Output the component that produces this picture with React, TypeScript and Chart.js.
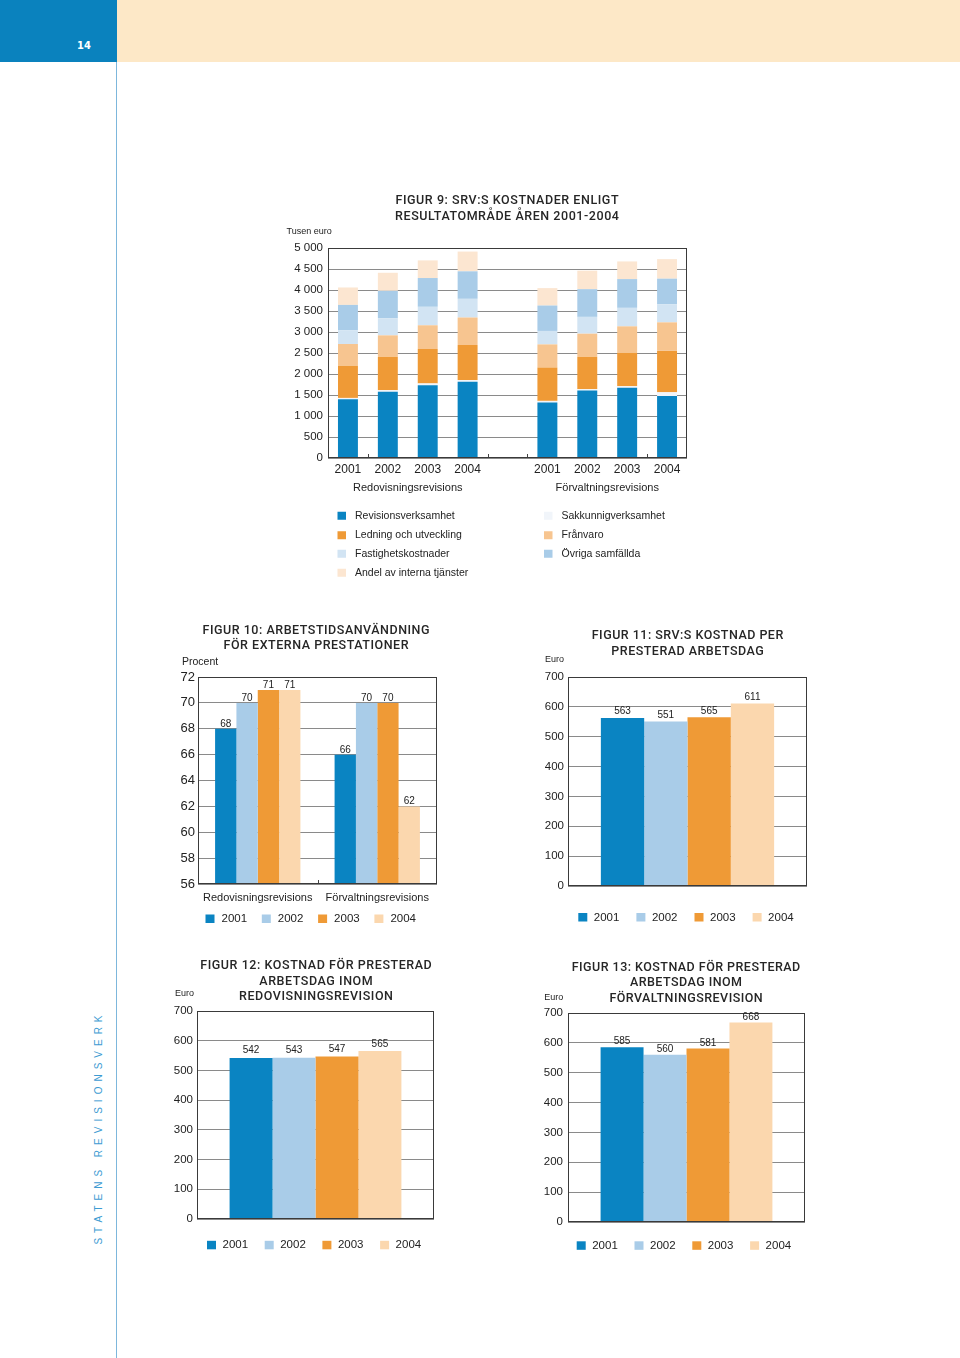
import React, { useEffect, useRef } from 'react';
import { Chart, registerables } from 'chart.js';

Chart.register(...registerables);

const SANS = "'Liberation Sans', Arial, sans-serif";
const TITLE_FONT = "Roboto, 'Liberation Sans', sans-serif";
const NARROW = "'Liberation Sans Narrow', 'DejaVu Sans Condensed', 'Liberation Sans', sans-serif";
const TEXT = '#222222';
Chart.defaults.font.family = SANS;

// ---------------- data ----------------
const years = ['2001', '2002', '2003', '2004'];
const yearColors = ['#0a84c2', '#a9cce8', '#ef9a36', '#fbd7ae'];

// Figur 9 (tusen euro, stacked)
const fig9Categories = ['2001', '2002', '2003', '2004', '', '2001', '2002', '2003', '2004'];
const fig9Groups = ['Redovisningsrevisions', 'Förvaltningsrevisions'];
const fig9Revisionsverksamhet = [1400, 1575, 1730, 1815, null, 1320, 1610, 1670, 1475];
const fig9Sakkunnigverksamhet = [30, 40, 45, 40, null, 40, 30, 40, 90];
const fig9Ledning = [765, 795, 820, 835, null, 795, 770, 795, 985];
const fig9Franvaro = [520, 510, 565, 655, null, 550, 550, 630, 680];
const fig9Fastighet = [325, 405, 440, 445, null, 320, 400, 440, 430];
const fig9Ovriga = [605, 655, 685, 655, null, 605, 660, 685, 610];
const fig9Andel = [415, 430, 420, 470, null, 415, 440, 420, 465];
const fig9SeriesNames = [
  'Revisionsverksamhet',
  'Sakkunnigverksamhet',
  'Ledning och utveckling',
  'Frånvaro',
  'Fastighetskostnader',
  'Övriga samfällda',
  'Andel av interna tjänster',
];
const fig9Colors = ['#0a84c2', '#f1f5fa', '#ef9a36', '#f7c590', '#d2e4f3', '#a9cce8', '#fce6d1'];

// Figur 10 (procent)
const fig10Categories = ['Redovisningsrevisions', 'Förvaltningsrevisions'];
const fig10Y2001 = [68, 66];
const fig10Y2002 = [70, 70];
const fig10Y2003 = [71, 70];
const fig10Y2004 = [71, 62];

// Figur 11-13 (euro)
const fig11Values = [563, 551, 565, 611];
const fig12Values = [542, 543, 547, 565];
const fig13Values = [585, 560, 581, 668];

// ---------------- helpers ----------------
const fmtThousands = (v: number) => String(v).replace(/\B(?=(\d{3})+(?!\d))/g, ' ');

const decorPlugin = {
  id: 'decor',
  afterDraw(chart: any, _args: any, o: any) {
    const ctx = chart.ctx as CanvasRenderingContext2D;
    const [ox, oy] = o.origin;
    const ca = chart.chartArea;
    const xs = chart.scales.x;
    ctx.save();

    // inner tick marks at category borders
    if (o.innerTicks) {
      const p0 = xs.getPixelForValue(0);
      const cw = xs.getPixelForValue(1) - p0;
      ctx.strokeStyle = '#444';
      ctx.lineWidth = 1;
      o.innerTicks.forEach((b: number) => {
        const x = Math.round(p0 + cw * b) + 0.5;
        ctx.beginPath();
        ctx.moveTo(x, ca.bottom);
        ctx.lineTo(x, ca.bottom - 4);
        ctx.stroke();
      });
    }

    // frame
    ctx.strokeStyle = '#3a3a3a';
    ctx.lineWidth = 1;
    const l = Math.round(ca.left) + 0.5;
    const t = Math.round(ca.top) + 0.5;
    const r = Math.round(ca.right) - 0.5;
    const b = Math.round(ca.bottom) - 0.5;
    ctx.strokeRect(l, t, r - l, b - t);

    // data labels
    if (o.dataLabels) {
      ctx.font = `${o.dataLabels.size}px ${SANS}`;
      ctx.fillStyle = TEXT;
      ctx.textAlign = 'center';
      ctx.textBaseline = 'alphabetic';
      chart.data.datasets.forEach((ds: any, di: number) => {
        const meta = chart.getDatasetMeta(di);
        meta.data.forEach((el: any, i: number) => {
          const v = ds.data[i];
          if (v == null) return;
          ctx.fillText(String(v), el.x, el.y - o.dataLabels.offset);
        });
      });
    }

    // group labels
    if (o.groups) {
      ctx.font = `${o.groups.size}px ${SANS}`;
      ctx.fillStyle = TEXT;
      ctx.textAlign = 'center';
      ctx.textBaseline = 'middle';
      o.groups.items.forEach((g: any) => {
        const x = (xs.getPixelForValue(g.a) + xs.getPixelForValue(g.b)) / 2;
        ctx.fillText(g.text, x, o.groups.y - oy);
      });
    }

    // title (letter spacing fitted so the first line has the reference width)
    if (o.title) {
      ctx.font = `500 ${o.title.size}px ${TITLE_FONT}`;
      (ctx as any).letterSpacing = '0px';
      const first = o.title.lines[0];
      const w0 = ctx.measureText(first).width;
      const sp = Math.max(0, (o.title.width - w0) / Math.max(1, first.length - 1));
      (ctx as any).letterSpacing = `${sp}px`;
      ctx.fillStyle = '#262626';
      ctx.textAlign = 'center';
      ctx.textBaseline = 'middle';
      o.title.lines.forEach((ln: string, i: number) => {
        ctx.fillText(ln, o.title.x - ox + sp / 2, o.title.ys[i] - oy);
      });
      (ctx as any).letterSpacing = '0px';
    }

    // unit label
    if (o.unit) {
      ctx.font = `${o.unit.size}px ${SANS}`;
      ctx.fillStyle = TEXT;
      ctx.textAlign = 'left';
      ctx.textBaseline = 'middle';
      ctx.fillText(o.unit.text, o.unit.x - ox, o.unit.y - oy);
    }

    // legend
    if (o.legend) {
      const lg = o.legend;
      ctx.font = `${lg.size}px ${SANS}`;
      ctx.textAlign = 'left';
      ctx.textBaseline = 'middle';
      chart.data.datasets.forEach((d: any, i: number) => {
        let bx: number, cy: number;
        if (lg.colXs) {
          bx = lg.colXs[i % lg.colXs.length];
          cy = lg.rowYs[Math.floor(i / lg.colXs.length)];
        } else {
          bx = lg.x0 + i * lg.dx;
          cy = lg.y;
        }
        ctx.fillStyle = d.backgroundColor;
        ctx.fillRect(bx - ox, cy - lg.box / 2 - oy, lg.box, lg.box - 0.5);
        ctx.fillStyle = TEXT;
        ctx.fillText(d.label, bx + lg.textDx - ox, cy - oy);
      });
    }
    ctx.restore();
  },
};

const commonOptions = {
  responsive: false,
  animation: false,
  events: [],
  plugins: {
    legend: { display: false },
    title: { display: false },
    tooltip: { enabled: false },
  },
};

function yScale(min: number, max: number, step: number, size: number, pad: number, width: number, fmt?: (v: number) => string) {
  return {
    min,
    max,
    ticks: {
      stepSize: step,
      padding: pad,
      font: { size, family: SANS },
      color: TEXT,
      callback: (v: any) => (fmt ? fmt(Number(v)) : String(v)),
    },
    grid: { color: '#8a8a8a', lineWidth: 1, drawTicks: false },
    border: { display: false },
    afterFit: (s: any) => {
      s.width = width;
    },
  };
}

type Rect = { x: number; y: number; w: number; h: number };

function ChartBox({ rect, makeConfig }: { rect: Rect; makeConfig: () => any }) {
  const ref = useRef<HTMLCanvasElement>(null);
  useEffect(() => {
    const chart = new Chart(ref.current as HTMLCanvasElement, makeConfig());
    return () => chart.destroy();
  }, []);
  return (
    <canvas
      ref={ref}
      width={rect.w}
      height={rect.h}
      style={{ position: 'absolute', left: rect.x, top: rect.y, width: rect.w, height: rect.h }}
    />
  );
}

// ---------------- chart configs ----------------
const r9: Rect = { x: 270, y: 185, w: 440, h: 405 };
const fig9Config = () => {
  const series = [
    fig9Revisionsverksamhet,
    fig9Sakkunnigverksamhet,
    fig9Ledning,
    fig9Franvaro,
    fig9Fastighet,
    fig9Ovriga,
    fig9Andel,
  ];
  return {
    type: 'bar',
    data: {
      labels: fig9Categories,
      datasets: series.map((data, i) => ({
        label: fig9SeriesNames[i],
        data,
        backgroundColor: fig9Colors[i],
        borderWidth: 0,
        barPercentage: 0.5,
        categoryPercentage: 1,
      })),
    },
    options: {
      ...commonOptions,
      layout: { padding: { left: 18, right: 23, top: 63, bottom: 102 } },
      scales: {
        x: {
          stacked: true,
          grid: { display: false, drawTicks: false },
          border: { display: false },
          ticks: { font: { size: 12, family: SANS }, color: TEXT, padding: 4, maxRotation: 0, autoSkip: false },
          afterFit: (s: any) => {
            s.height = 30;
          },
        },
        y: { ...yScale(0, 5000, 500, 11.5, 5, 40, fmtThousands), stacked: true },
      },
      plugins: {
        ...commonOptions.plugins,
        decor: {
          origin: [r9.x, r9.y],
          innerTicks: [0.5, 3.5, 4.5, 7.5],
          groups: {
            size: 11,
            y: 488,
            items: [
              { text: fig9Groups[0], a: 1, b: 2 },
              { text: fig9Groups[1], a: 6, b: 7 },
            ],
          },
          title: {
            lines: ['FIGUR 9: SRV:S KOSTNADER ENLIGT', 'RESULTATOMRÅDE ÅREN 2001-2004'],
            x: 507,
            ys: [201, 216.7],
            size: 12.5,
            width: 223,
          },
          unit: { text: 'Tusen euro', x: 286.5, y: 231.5, size: 9 },
          legend: {
            colXs: [337.5, 544],
            rowYs: [516, 535.5, 554, 573],
            box: 8.5,
            textDx: 17.5,
            size: 10.5,
          },
        },
      },
    },
    plugins: [decorPlugin],
  };
};

const r10: Rect = { x: 165, y: 618, w: 300, h: 315 };
const fig10Config = () => {
  const series = [fig10Y2001, fig10Y2002, fig10Y2003, fig10Y2004];
  return {
    type: 'bar',
    data: {
      labels: fig10Categories,
      datasets: series.map((data, i) => ({
        label: years[i],
        data,
        backgroundColor: yearColors[i],
        borderWidth: 0,
        barPercentage: 1,
        categoryPercentage: 0.714,
      })),
    },
    options: {
      ...commonOptions,
      layout: { padding: { left: 3, right: 28, top: 59, bottom: 24 } },
      scales: {
        x: {
          grid: { display: false, drawTicks: false },
          border: { display: false },
          ticks: { font: { size: 11, family: SANS }, color: TEXT, padding: 7, maxRotation: 0, autoSkip: false },
          afterFit: (s: any) => {
            s.height = 25;
          },
        },
        y: yScale(56, 72, 2, 13, 3, 30),
      },
      plugins: {
        ...commonOptions.plugins,
        decor: {
          origin: [r10.x, r10.y],
          innerTicks: [0.5],
          dataLabels: { size: 10, offset: 2 },
          title: {
            lines: ['FIGUR 10: ARBETSTIDSANVÄNDNING', 'FÖR EXTERNA PRESTATIONER'],
            x: 316,
            ys: [630.5, 646.3],
            size: 12.5,
            width: 227,
          },
          unit: { text: 'Procent', x: 182, y: 662.3, size: 10.5 },
          legend: { x0: 205.5, dx: 56.3, y: 919, box: 9, textDx: 16, size: 11.5 },
        },
      },
    },
    plugins: [decorPlugin],
  };
};

function euroConfig(
  values: number[],
  rect: Rect,
  padding: any,
  yW: number,
  tickPad: number,
  title: string[],
  titleWidth: number,
  titleX: number,
  titleYs: number[],
  unitX: number,
  unitY: number,
  legendX0: number,
  legendDx: number,
  legendY: number,
  labelOffset: number
) {
  return () => ({
    type: 'bar',
    data: {
      labels: [''],
      datasets: years.map((y, i) => ({
        label: y,
        data: [values[i]],
        backgroundColor: yearColors[i],
        borderWidth: 0,
        barPercentage: 1,
        categoryPercentage: 0.725,
      })),
    },
    options: {
      ...commonOptions,
      layout: { padding },
      scales: {
        x: {
          grid: { display: false, drawTicks: false },
          border: { display: false },
          ticks: { display: false },
          afterFit: (s: any) => {
            s.height = 0;
          },
        },
        y: yScale(0, 700, 100, 11.5, tickPad, yW),
      },
      plugins: {
        ...commonOptions.plugins,
        decor: {
          origin: [rect.x, rect.y],
          dataLabels: { size: 10, offset: labelOffset },
          title: { lines: title, x: titleX, ys: titleYs, size: 12.5, width: titleWidth },
          unit: { text: 'Euro', x: unitX, y: unitY, size: 9 },
          legend: { x0: legendX0, dx: legendDx, y: legendY, box: 9, textDx: 15.5, size: 11.5 },
        },
      },
    },
    plugins: [decorPlugin],
  });
}

const r11: Rect = { x: 535, y: 618, w: 300, h: 315 };
const fig11Config = euroConfig(
  fig11Values,
  r11,
  { left: 3, right: 28, top: 59, bottom: 47 },
  30,
  4,
  ['FIGUR 11: SRV:S KOSTNAD PER', 'PRESTERAD ARBETSDAG'],
  191.5,
  687.5,
  [636, 652.3],
  545,
  660,
  578.3,
  58.1,
  917.5,
  3.5
);

const r12: Rect = { x: 165, y: 950, w: 300, h: 315 };
const fig12Config = euroConfig(
  fig12Values,
  r12,
  { left: 4, right: 31, top: 61, bottom: 46 },
  28,
  4,
  ['FIGUR 12: KOSTNAD FÖR PRESTERAD', 'ARBETSDAG INOM', 'REDOVISNINGSREVISION'],
  231.5,
  316,
  [966, 981.7, 996.7],
  175,
  993.3,
  207,
  57.7,
  1245.3,
  4.5
);

const r13: Rect = { x: 535, y: 950, w: 300, h: 315 };
const fig13Config = euroConfig(
  fig13Values,
  r13,
  { left: 3, right: 30, top: 63, bottom: 43 },
  30,
  5,
  ['FIGUR 13: KOSTNAD FÖR PRESTERAD', 'ARBETSDAG INOM', 'FÖRVALTNINGSREVISION'],
  228.5,
  686,
  [967.7, 983.3, 999.3],
  544.3,
  997.7,
  576.7,
  57.8,
  1245.8,
  3
);

export default function App() {
  return (
    <div
      style={{
        position: 'absolute',
        left: 0,
        top: 0,
        width: 960,
        height: 1358,
        background: '#ffffff',
        overflow: 'hidden',
        fontFamily: SANS,
      }}
    >
      <div style={{ position: 'absolute', left: 0, top: 0, width: 117, height: 62, background: '#0a82be' }} />
      <div style={{ position: 'absolute', left: 117, top: 0, width: 843, height: 62, background: '#fde8c7' }} />
      <div
        style={{
          position: 'absolute',
          left: 70,
          top: 39,
          width: 28,
          textAlign: 'center',
          color: '#ffffff',
          fontFamily: NARROW,
          fontWeight: 'bold',
          fontSize: 11,
          lineHeight: '14px',
        }}
      >
        14
      </div>
      <div style={{ position: 'absolute', left: 116, top: 62, width: 1, height: 1296, background: '#7db7dc' }} />
      <div
        style={{
          position: 'absolute',
          left: 99 - 125,
          top: 1130 - 7,
          width: 250,
          height: 14,
          lineHeight: '14px',
          textAlign: 'center',
          transform: 'rotate(-90deg)',
          color: '#3d9bd2',
          fontSize: 10,
          letterSpacing: '5px',
          paddingLeft: 5,
          boxSizing: 'border-box',
          whiteSpace: 'nowrap',
        }}
      >
        STATENS REVISIONSVERK
      </div>
      <ChartBox rect={r9} makeConfig={fig9Config} />
      <ChartBox rect={r10} makeConfig={fig10Config} />
      <ChartBox rect={r11} makeConfig={fig11Config} />
      <ChartBox rect={r12} makeConfig={fig12Config} />
      <ChartBox rect={r13} makeConfig={fig13Config} />
    </div>
  );
}
